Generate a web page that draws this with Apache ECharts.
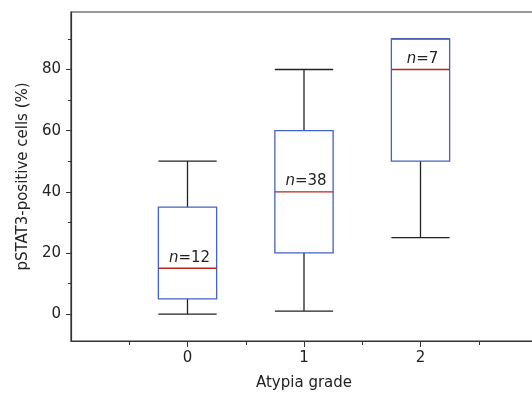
<!DOCTYPE html>
<html>
<head>
<meta charset="utf-8">
<script src="https://cdn.jsdelivr.net/npm/echarts@6/dist/echarts.min.js"></script>
<style>
html,body{margin:0;padding:0;background:#fff;overflow:hidden;}
#chart{width:540px;height:396px;}
</style>
</head>
<body>
<div id="chart"></div>
<script>
// ---- data ----
const categories = ['0', '1', '2'];
const whiskerLow = [0, 1, 25];
const q1 = [5, 20, 50];
const median = [15, 40, 80];
const q3 = [35, 60, 90];
const whiskerHigh = [50, 80, 90];
const sampleSizes = [12, 38, 7];
const yTickLabels = [0, 20, 40, 60, 80];
const yMinorTicks = [10, 30, 50, 70, 90];
const xMinorTicks = [-0.5, 0.5, 1.5, 2.5];

const FONT = '"DejaVu Sans", "Liberation Sans", sans-serif';
const AXIS_COLOR = '#333';
const BOX_COLOR = '#4363c6';
const MEDIAN_COLOR = '#b5281e';
const WHISKER_COLOR = '#222';

const xPositions = categories.map((c) => Number(c));
const seriesData = categories.map((c, i) => [xPositions[i], whiskerLow[i], q1[i], median[i], q3[i], whiskerHigh[i], sampleSizes[i]]);

function renderItem(params, api) {
  const x = api.value(0);
  const pLow = api.coord([x, api.value(1)]);
  const cx = pLow[0];
  const yLow = pLow[1];
  const yQ1 = api.coord([x, api.value(2)])[1];
  const yMed = api.coord([x, api.value(3)])[1];
  const yQ3 = api.coord([x, api.value(4)])[1];
  const yHigh = api.coord([x, api.value(5)])[1];
  const half = api.size([0.5, 0])[0] / 2;
  const n = api.value(6);
  const wStyle = { stroke: WHISKER_COLOR, lineWidth: 1.3 };
  return {
    type: 'group',
    children: [
      { type: 'line', shape: { x1: cx, y1: yQ3, x2: cx, y2: yHigh }, style: wStyle },
      { type: 'line', shape: { x1: cx, y1: yLow, x2: cx, y2: yQ1 }, style: wStyle },
      { type: 'line', shape: { x1: cx - half, y1: yHigh, x2: cx + half, y2: yHigh }, style: wStyle },
      { type: 'line', shape: { x1: cx - half, y1: yLow, x2: cx + half, y2: yLow }, style: wStyle },
      { type: 'rect', shape: { x: cx - half, y: yQ3, width: half * 2, height: yQ1 - yQ3 },
        style: { fill: 'none', stroke: BOX_COLOR, lineWidth: 1.3 } },
      { type: 'line', shape: { x1: cx - half, y1: yMed, x2: cx + half, y2: yMed },
        style: { stroke: MEDIAN_COLOR, lineWidth: 1.3 } },
      { type: 'text', style: {
          text: '{i|n}{r|=' + n + '}',
          x: cx + 2, y: yMed - 3,
          align: 'center', verticalAlign: 'bottom',
          rich: {
            i: { fontStyle: 'italic', fontFamily: FONT, fontSize: 15, fill: '#222' },
            r: { fontFamily: FONT, fontSize: 15, fill: '#222' }
          }
        } }
    ]
  };
}

const chart = echarts.init(document.getElementById('chart'), null, { renderer: 'canvas' });
chart.setOption({
  animation: false,
  backgroundColor: '#fff',
  grid: { left: 71, top: 12, width: 466, height: 329.5, show: true, borderColor: AXIS_COLOR, borderWidth: 1.2, backgroundColor: 'transparent' },
  xAxis: [
    {
      type: 'value', min: -1, max: 3, position: 'bottom',
      name: 'Atypia grade', nameLocation: 'middle', nameGap: 35,
      nameTextStyle: { fontFamily: FONT, fontSize: 15, color: '#222' },
      axisLine: { onZero: false, lineStyle: { color: AXIS_COLOR, width: 1.2 } },
      axisTick: { customValues: xPositions, length: 6, lineStyle: { color: AXIS_COLOR } },
      axisLabel: { customValues: xPositions, formatter: (v) => categories[xPositions.indexOf(v)], margin: 10, fontFamily: FONT, fontSize: 15, color: '#222' },
      splitLine: { show: false }
    },
    {
      type: 'value', min: -1, max: 3, position: 'bottom',
      axisLine: { show: false, onZero: false },
      axisTick: { customValues: xMinorTicks, length: 4, lineStyle: { color: AXIS_COLOR } },
      axisLabel: { show: false },
      splitLine: { show: false }
    }
  ],
  yAxis: [
    {
      type: 'value', min: -8.8, max: 98.8, position: 'left',
      name: 'pSTAT3-positive cells (%)', nameLocation: 'middle', nameGap: 40,
      nameTextStyle: { fontFamily: FONT, fontSize: 15, color: '#222' },
      axisLine: { show: true, onZero: false, lineStyle: { color: AXIS_COLOR, width: 1.2 } },
      axisTick: { show: true, customValues: yTickLabels, length: 5, lineStyle: { color: AXIS_COLOR } },
      axisLabel: { customValues: yTickLabels, margin: 10, fontFamily: FONT, fontSize: 15, color: '#222' },
      splitLine: { show: false }
    },
    {
      type: 'value', min: -8.8, max: 98.8, position: 'left',
      axisLine: { show: false, onZero: false },
      axisTick: { show: true, customValues: yMinorTicks, length: 3, lineStyle: { color: AXIS_COLOR } },
      axisLabel: { show: false },
      splitLine: { show: false }
    }
  ],
  series: [{
    type: 'custom',
    xAxisIndex: 0, yAxisIndex: 0,
    renderItem: renderItem,
    data: seriesData,
    clip: false
  }]
});
</script>
</body>
</html>
